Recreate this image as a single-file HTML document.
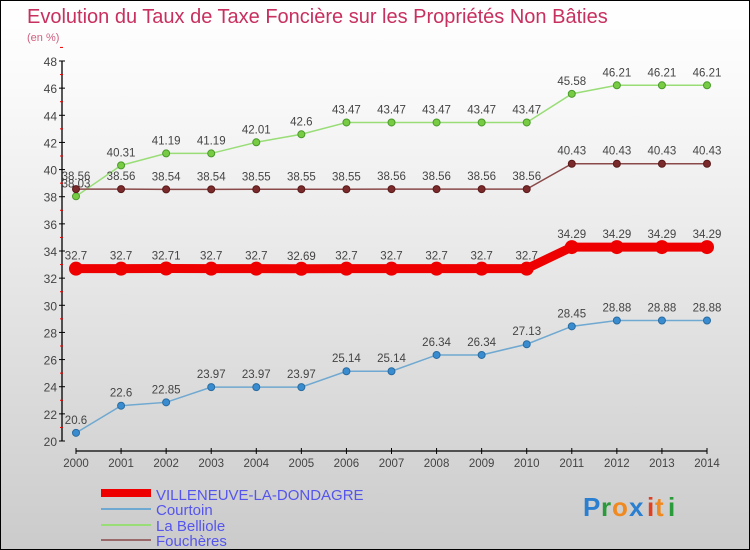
<!DOCTYPE html>
<html><head><meta charset="utf-8"><style>
body{margin:0}
#c{width:748px;height:548px;border:1px solid #000;background:linear-gradient(#fff,#fafafa 15%,#cbcbcb);position:relative;overflow:hidden;font-family:"Liberation Sans",sans-serif}
svg text{font-family:"Liberation Sans",sans-serif}
</style></head><body>
<div id="c">
<svg id="s" width="748" height="548">
<text x="26" y="22" font-size="20" fill="#c8305f">Evolution du Taux de Taxe Foncière sur les Propriétés Non Bâties</text>
<text x="26" y="40" font-size="11" fill="#d06080">(en %)</text>
<g id="legend">
<rect x="100" y="488" width="50" height="8" fill="#ee0000"/>
<text x="155" y="499" font-size="15" fill="#5555ee">VILLENEUVE-LA-DONDAGRE</text>
<rect x="100" y="507" width="50" height="2" fill="#6fa8d0"/>
<text x="155" y="514" font-size="15" fill="#5555ee">Courtoin</text>
<rect x="100" y="523" width="50" height="2" fill="#99dd77"/>
<text x="155" y="530" font-size="15" fill="#5555ee">La Belliole</text>
<rect x="100" y="538" width="50" height="2" fill="#9a6a6a"/>
<text x="155" y="545" font-size="15" fill="#5555ee">Fouchères</text>
</g>
<g font-size="26" font-weight="bold">
<text x="582" y="515" fill="#2a7fd0">P</text><text x="600" y="515" fill="#2a9a3a">r</text><text x="611" y="515" fill="#f08a20">o</text><text x="628" y="515" fill="#2a7fd0">x</text><text x="646" y="515" fill="#e04020">i</text><text x="654" y="515" fill="#f08a20">t</text><text x="667" y="515" fill="#2a9a3a">i</text>
</g>
</svg></div>
<script>
const years=[2000,2001,2002,2003,2004,2005,2006,2007,2008,2009,2010,2011,2012,2013,2014];
const yTicks=[20,22,24,26,28,30,32,34,36,38,40,42,44,46,48];
const villeneuve=[32.7,32.7,32.71,32.7,32.7,32.69,32.7,32.7,32.7,32.7,32.7,34.29,34.29,34.29,34.29];
const courtoin=[20.6,22.6,22.85,23.97,23.97,23.97,25.14,25.14,26.34,26.34,27.13,28.45,28.88,28.88,28.88];
const belliole=[38.03,40.31,41.19,41.19,42.01,42.6,43.47,43.47,43.47,43.47,43.47,45.58,46.21,46.21,46.21];
const foucheres=[38.56,38.56,38.54,38.54,38.55,38.55,38.55,38.56,38.56,38.56,38.56,40.43,40.43,40.43,40.43];
const NS='http://www.w3.org/2000/svg',s=document.getElementById('s');
const X=i=>75+i*(631/(years.length-1));
const Y=v=>440-(v-20)*(380/28);
function el(t,a,p){const e=document.createElementNS(NS,t);for(const k in a)e.setAttribute(k,a[k]);(p||s).appendChild(e);return e;}
const ax=el('g',{});


el('line',{x1:61,y1:Y(48),x2:61,y2:Y(20),stroke:'#000','stroke-width':1.3},ax);
yTicks.forEach(v=>{el('line',{x1:58,x2:64,y1:Y(v),y2:Y(v),stroke:'#000'},ax);
 el('line',{x1:59,x2:62,y1:Y(v+1),y2:Y(v+1),stroke:'#e00'},ax);
 const t=el('text',{x:56,y:Y(v)+5,'font-size':12,fill:'#444','text-anchor':'end'},ax);t.textContent=v;
 
 });
el('line',{x1:X(0),x2:X(14),y1:450,y2:450,stroke:'#000','stroke-width':1.3},ax);
years.forEach((y,i)=>{el('line',{x1:X(i),x2:X(i),y1:447,y2:453,stroke:'#000'},ax);
 const t=el('text',{x:X(i),y:466,'font-size':11.5,fill:'#444','text-anchor':'middle'},ax);t.textContent=y;
 
 });
function series(name,vals,color,w,r,fill,stroke){
 const g=el('g',{});
 
 
 el('polyline',{points:vals.map((v,i)=>X(i)+','+Y(v)).join(' '),fill:'none',stroke:color,'stroke-width':w},g);
 vals.forEach((v,i)=>{const c=el('circle',{cx:X(i),cy:Y(v),r:r,fill:fill,stroke:stroke,'stroke-width':1},g);
  
  
  const t=el('text',{x:X(i),y:Y(v)-9,'font-size':11.5,fill:'#444','text-anchor':'middle'},g);t.textContent=v;
  
  });
}
series('villeneuve',villeneuve,'#ee0000',9,6.5,'#ee0000','#ee0000');
series('courtoin',courtoin,'#6fa8d0',1.5,3.5,'#3a8cd0','#2a6ca0');
series('belliole',belliole,'#99dd77',1.5,3.5,'#77cc44','#4a9a2a');
series('foucheres',foucheres,'#8a4a4a',1.5,3.5,'#7a2a2a','#5a1a1a');
</script>
</body></html>
